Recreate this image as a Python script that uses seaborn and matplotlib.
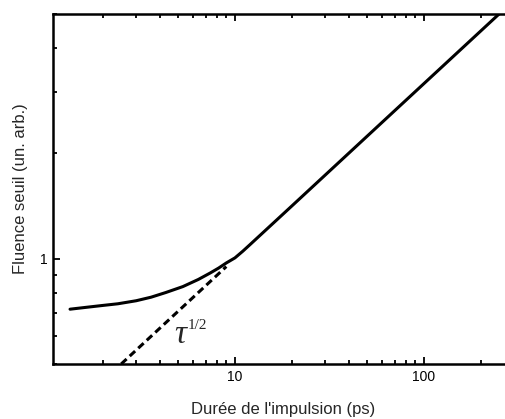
import numpy as np
import matplotlib
matplotlib.use("Agg")
import matplotlib.pyplot as plt
import matplotlib.ticker as mticker
import seaborn as sns

# threshold fluence vs pulse duration
tau_solid = [1.34, 1.6, 2.0, 2.4, 3.0, 3.6, 4.3, 5.3, 6.4, 7.4, 8.2, 9.0, 10.0,
             11.0, 12.0, 20.0, 40.0, 70.0, 120.0, 200.0, 300.0]
fluence_solid = [0.717, 0.725, 0.735, 0.743, 0.758, 0.776, 0.800, 0.832, 0.872,
                 0.910, 0.940, 0.972, 1.005, 1.050, 1.096, 1.414, 2.0, 2.646,
                 3.464, 4.472, 5.477]

# tau^(1/2) guide line
tau_fit = [2.5, 9.0]
fluence_fit = [0.5, 0.949]

x_ticks = [10, 100]
x_ticklabels = ["10", "100"]
y_ticks = [1]
y_ticklabels = ["1"]

sns.set_style("ticks")
plt.rcParams["font.family"] = ["Liberation Sans", "DejaVu Sans"]

fig = plt.figure(figsize=(5.05, 4.19), dpi=100)
ax = fig.add_axes([0.1044, 0.1313, 0.9135, 0.8353])

sns.lineplot(x=tau_solid, y=fluence_solid, ax=ax, color="black", lw=2.2,
             sort=False, estimator=None)
sns.lineplot(x=tau_fit, y=fluence_fit, ax=ax, color="black", lw=2.2,
             sort=False, estimator=None, linestyle=(0, (2.4, 1.4)))

ax.set_xscale("log")
ax.set_yscale("log")
ax.set_xlim(1.085, 300)
ax.set_ylim(0.5, 5)

ax.xaxis.set_major_locator(mticker.FixedLocator(x_ticks))
ax.xaxis.set_major_formatter(mticker.FixedFormatter(x_ticklabels))
ax.xaxis.set_minor_locator(mticker.LogLocator(base=10, subs=np.arange(2, 10)))
ax.xaxis.set_minor_formatter(mticker.NullFormatter())
ax.yaxis.set_major_locator(mticker.FixedLocator(y_ticks))
ax.yaxis.set_major_formatter(mticker.FixedFormatter(y_ticklabels))
ax.yaxis.set_minor_locator(mticker.LogLocator(base=10, subs=np.arange(2, 10)))
ax.yaxis.set_minor_formatter(mticker.NullFormatter())

ax.tick_params(which="both", direction="in", top=True, right=True,
               width=1.3, colors="black", labelsize=10, pad=4)
ax.tick_params(which="major", length=5)
ax.tick_params(which="minor", length=3)
for s in ax.spines.values():
    s.set_linewidth(1.8)
    s.set_color("black")

ax.set_xlabel("Durée de l'impulsion (ps)", fontsize=12, labelpad=13)
ax.set_ylabel("Fluence seuil (un. arb.)", fontsize=12, labelpad=8)

serif = ["Liberation Serif", "DejaVu Serif"]
ax.text(4.76, 0.573, "τ", fontsize=24, family=serif,
        style="italic", ha="left", va="baseline")
ax.text(5.64, 0.631, "1/2", fontsize=11, family=serif,
        ha="left", va="baseline")

fig.savefig("out.png", dpi=100)
